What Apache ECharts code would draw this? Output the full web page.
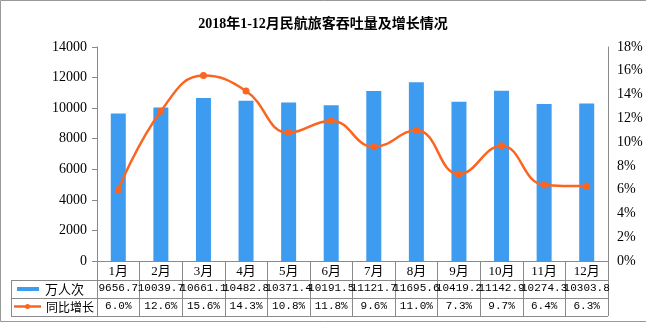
<!DOCTYPE html>
<html><head><meta charset="utf-8">
<script src="https://cdn.jsdelivr.net/npm/echarts@6/dist/echarts.min.js"></script>
<style>html,body{margin:0;padding:0;background:#fff}#c{width:646px;height:323px}</style>
</head><body><div id="c"></div>
<script>
var months = ['1月','2月','3月','4月','5月','6月','7月','8月','9月','10月','11月','12月'];
var passengers = [9656.7,10039.7,10661.1,10482.8,10371.4,10191.5,11121.7,11695.6,10419.2,11142.9,10274.3,10303.8];
var growth = [6.0,12.6,15.6,14.3,10.8,11.8,9.6,11.0,7.3,9.7,6.4,6.3];
var leftTicks = {min:0,max:14000,interval:2000};
var rightTicks = {min:0,max:18,interval:2};

var serif = '"Liberation Serif","Noto Sans CJK SC",serif';
var mono = '"Liberation Mono","Noto Sans CJK SC",monospace';
var gridC = '#8a8a8a';
var chart = echarts.init(document.getElementById('c'), null, {renderer:'canvas'});
var hiddenAxis = function(offset, data){
  return {type:'category', data:months, position:'bottom', offset:offset,
    axisLine:{show:false}, axisTick:{show:false},
    axisLabel:{interval:0, margin:3, fontFamily:mono, fontSize:11, color:'#000',
      formatter:function(v,i){return data[i];}}};
};
chart.setOption({
  animation:false,
  title:{text:'2018年1-12月民航旅客吞吐量及增长情况', left:'center', top:12,
    textStyle:{fontFamily:serif, fontSize:14, fontWeight:'bold', color:'#000'}},
  grid:{left:97, right:38, top:47, bottom:62},
  xAxis:[
    {type:'category', data:months, position:'bottom',
      axisLine:{lineStyle:{color:gridC, width:1}},
      axisTick:{show:true, length:55, lineStyle:{color:gridC}},
      axisLabel:{interval:0, margin:4, fontFamily:serif, fontSize:13, color:'#000'}},
    hiddenAxis(19, passengers.map(function(v){return v.toFixed(1);})),
    hiddenAxis(37, growth.map(function(v){return v.toFixed(1)+'%';}))
  ],
  yAxis:[
    {type:'value', min:leftTicks.min, max:leftTicks.max, interval:leftTicks.interval,
      axisLine:{show:true, lineStyle:{color:gridC}},
      axisTick:{show:true, length:5, lineStyle:{color:gridC}},
      splitLine:{show:false},
      axisLabel:{margin:10, fontFamily:serif, fontSize:14, color:'#000',
        formatter:function(v){return String(v);}}},
    {type:'value', min:rightTicks.min, max:rightTicks.max, interval:rightTicks.interval,
      axisLine:{show:true, lineStyle:{color:gridC}},
      axisTick:{show:false}, splitLine:{show:false},
      axisLabel:{margin:9, fontFamily:serif, fontSize:14, color:'#000',
        formatter:function(v){return v+'%';}}}
  ],
  series:[
    {name:'万人次', type:'bar', data:passengers, barWidth:15,
      itemStyle:{color:'#3d9cf0'}},
    {name:'同比增长', type:'line', yAxisIndex:1, data:growth, smooth:0.45,
      symbol:'circle', symbolSize:7,
      lineStyle:{color:'#fb6520', width:2.5}, itemStyle:{color:'#fb6520'}}
  ],
  graphic:[
    {type:'rect', shape:{x:0.5,y:0.5,width:660,height:321}, style:{fill:'none', stroke:'#999', lineWidth:1}, silent:true},
    {type:'line', shape:{x1:11,y1:280.5,x2:608,y2:280.5}, style:{stroke:gridC,lineWidth:1}},
    {type:'line', shape:{x1:11,y1:298.5,x2:608,y2:298.5}, style:{stroke:gridC,lineWidth:1}},
    {type:'line', shape:{x1:11,y1:316.5,x2:608,y2:316.5}, style:{stroke:gridC,lineWidth:1}},
    {type:'line', shape:{x1:11.5,y1:280,x2:11.5,y2:317}, style:{stroke:gridC,lineWidth:1}},
    {type:'rect', shape:{x:17,y:287,width:22,height:4}, style:{fill:'#3d9cf0'}},
    {type:'text', x:45, y:289, style:{text:'万人次', font:'13px "Noto Sans CJK SC"', fill:'#000', verticalAlign:'middle'}},
    {type:'line', shape:{x1:14,y1:306.5,x2:41,y2:306.5}, style:{stroke:'#fb6520',lineWidth:2.5}},
    {type:'circle', shape:{cx:27.5,cy:306.5,r:2.5}, style:{fill:'#fb6520'}},
    {type:'text', x:46, y:307, style:{text:'同比增长', font:'12px "Noto Sans CJK SC"', fill:'#000', verticalAlign:'middle'}}
  ]
});
</script></body></html>
